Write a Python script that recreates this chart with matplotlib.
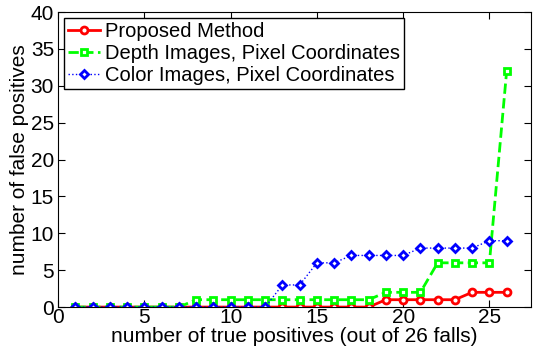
import matplotlib.pyplot as plt

plt.rcParams['font.family'] = ['Liberation Sans', 'DejaVu Sans']

tp = list(range(1, 27))
proposed = [0]*18 + [1]*5 + [2]*3
depth = [0]*7 + [1]*11 + [2]*3 + [6]*4 + [32]
color = [0]*12 + [3, 3, 6, 6, 7, 7, 7, 7, 8, 8, 8, 8, 9, 9]

fig = plt.figure(figsize=(5.34, 3.55), dpi=100)
ax = fig.add_axes([0.109, 0.135, 0.885, 0.831])

ax.plot(tp, proposed, '-o', color='red', lw=2, ms=5, mew=2, mfc='w',
        label='Proposed Method')
ax.plot(tp, depth, '--s', color='#00ff00', lw=2, ms=5, mew=2, mfc='w',
        label='Depth Images, Pixel Coordinates')
ax.plot(tp, color, ':D', color='blue', lw=1, ms=4.5, mew=2, mfc='w',
        label='Color Images, Pixel Coordinates')

ax.set_xlim(0, 27.4)
ax.set_ylim(0, 40)
ax.set_xticks([0, 5, 10, 15, 20, 25])
ax.set_yticks(range(0, 41, 5))
ax.tick_params(direction='in', top=True, right=True, labelsize=15, length=5, pad=1)
ax.tick_params(axis='y', pad=3)
ax.set_xlabel('number of true positives (out of 26 falls)', fontsize=15, labelpad=0)
ax.set_ylabel('number of false positives', fontsize=15, labelpad=1)

leg = ax.legend(loc='upper left', fontsize=14.5, fancybox=False, framealpha=1,
                edgecolor='black', handlelength=1.6, handletextpad=0.2,
                borderpad=0.2, labelspacing=0.15, borderaxespad=0.3)
leg.get_frame().set_linewidth(1)

fig.savefig('out.png', dpi=100)
